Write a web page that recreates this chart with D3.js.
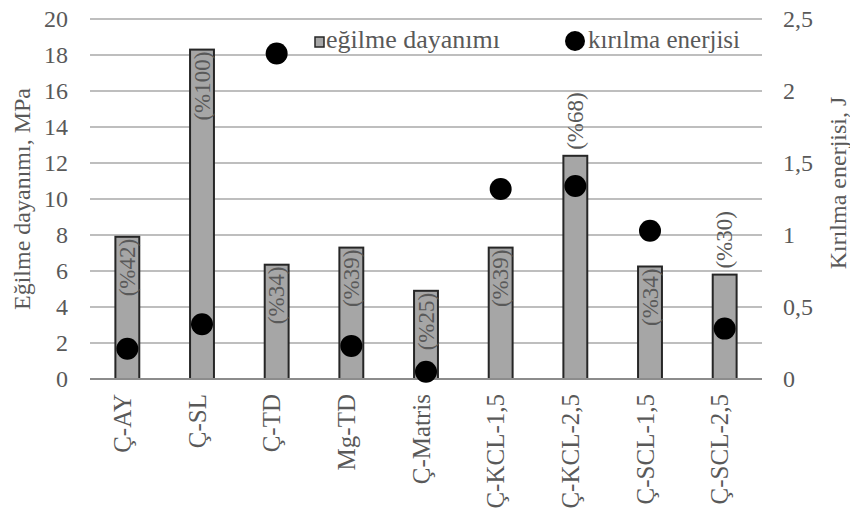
<!DOCTYPE html>
<html>
<head>
<meta charset="utf-8">
<script src="https://cdn.jsdelivr.net/npm/d3@7"></script>
<style>
  html, body { margin: 0; padding: 0; background: #fff; }
  svg { display: block; }
  text { font-family: "Liberation Serif", "Times New Roman", serif; fill: #595959; }
</style>
</head>
<body>
<svg id="chart" width="850" height="511"></svg>
<script>
// Sample codes
const categories = ["Ç-AY", "Ç-SL", "Ç-TD", "Mg-TD", "Ç-Matris", "Ç-KCL-1,5", "Ç-KCL-2,5", "Ç-SCL-1,5", "Ç-SCL-2,5"];
// Flexural strength (MPa) – bars, left axis
const strength = [7.9, 18.3, 6.35, 7.3, 4.9, 7.3, 12.4, 6.25, 5.8];
// Relative strength labels
const strengthLabels = ["(%42)", "(%100)", "(%34)", "(%39)", "(%25)", "(%39)", "(%68)", "(%34)", "(%30)"];
// Whether each label sits inside the bar (true) or above it (false)
const labelInside = [true, true, true, true, true, true, false, true, false];
// Fracture energy (J) – dots, right axis
const energy = [0.21, 0.38, 2.26, 0.23, 0.05, 1.32, 1.34, 1.03, 0.35];
// Axis ticks
const leftTicks = [0, 2, 4, 6, 8, 10, 12, 14, 16, 18, 20];
const rightTicks = [0, 0.5, 1, 1.5, 2, 2.5];

const svg = d3.select("#chart");
const plot = { left: 90, right: 762, top: 19, bottom: 379 };
const serif = '"Liberation Serif", "Times New Roman", serif';

const x = d3.scaleBand()
  .domain(categories)
  .range([plot.left, plot.right])
  .paddingInner(0.68)
  .paddingOuter(0.34);

const yL = d3.scaleLinear().domain([0, 20]).range([plot.bottom, plot.top]);
const yR = d3.scaleLinear().domain([0, 2.5]).range([plot.bottom, plot.top]);

// Horizontal gridlines
svg.append("g")
  .selectAll("line")
  .data(leftTicks)
  .join("line")
  .attr("x1", plot.left).attr("x2", plot.right)
  .attr("y1", d => yL(d)).attr("y2", d => yL(d))
  .attr("stroke", "#a9a9a9")
  .attr("stroke-width", 1.6);

// Left axis labels
const leftAxis = svg.append("g")
  .attr("transform", `translate(${plot.left},0)`)
  .call(d3.axisLeft(yL).tickValues(leftTicks).tickSize(0).tickPadding(22));
leftAxis.attr("font-family", serif);
leftAxis.select(".domain").remove();
leftAxis.selectAll("text")
  .style("font-size", "24px").attr("fill", "#595959");

// Right axis labels
const rightAxis = svg.append("g")
  .attr("transform", `translate(${plot.right},0)`)
  .call(d3.axisRight(yR).tickValues(rightTicks).tickSize(0).tickPadding(21)
    .tickFormat(d => String(d).replace(".", ",")));
rightAxis.attr("font-family", serif);
rightAxis.select(".domain").remove();
rightAxis.selectAll("text")
  .style("font-size", "24px").attr("fill", "#595959");

// Bars
svg.append("g")
  .selectAll("rect")
  .data(strength)
  .join("rect")
  .attr("x", (d, i) => x(categories[i]))
  .attr("width", x.bandwidth())
  .attr("y", d => yL(d))
  .attr("height", d => yL(0) - yL(d))
  .attr("fill", "#a6a6a6")
  .attr("stroke", "#262626")
  .attr("stroke-width", 2);

// Bar labels, rotated to read bottom to top
svg.append("g")
  .selectAll("text")
  .data(strength)
  .join("text")
  .attr("transform", (d, i) => {
    const cx = x(categories[i]) + x.bandwidth() / 2;
    return `translate(${cx},${yL(d) + (labelInside[i] ? 2 : -6)}) rotate(-90)`;
  })
  .attr("text-anchor", (d, i) => labelInside[i] ? "end" : "start")
  .attr("dy", "0.33em")
  .style("font-size", "23px")
  .attr("fill", "#505050")
  .text((d, i) => strengthLabels[i]);

// X axis line
svg.append("line")
  .attr("x1", plot.left).attr("x2", plot.right)
  .attr("y1", plot.bottom).attr("y2", plot.bottom)
  .attr("stroke", "#8c8c8c").attr("stroke-width", 2);

// Energy dots
svg.append("g")
  .selectAll("circle")
  .data(energy)
  .join("circle")
  .attr("cx", (d, i) => x(categories[i]) + x.bandwidth() / 2)
  .attr("cy", d => yR(d))
  .attr("r", 11)
  .attr("fill", "#000");

// Category labels
svg.append("g")
  .selectAll("text")
  .data(categories)
  .join("text")
  .attr("transform", d => `translate(${x(d) + x.bandwidth() / 2 - 5},394) rotate(-90)`)
  .attr("text-anchor", "end")
  .attr("dy", "0.35em")
  .style("font-size", "25px")
  .text(d => d);

// Axis titles
svg.append("text")
  .attr("transform", `translate(22,${(plot.top + plot.bottom) / 2}) rotate(-90)`)
  .attr("text-anchor", "middle")
  .attr("dy", "0.35em")
  .style("font-size", "24px")
  .text("Eğilme dayanımı, MPa");

svg.append("text")
  .attr("transform", `translate(838,${(plot.top + plot.bottom) / 2 - 16}) rotate(-90)`)
  .attr("text-anchor", "middle")
  .attr("dy", "0.35em")
  .style("font-size", "24px")
  .text("Kırılma enerjisi, J");

// Legend
const legend = svg.append("g");
legend.append("rect")
  .attr("x", 312).attr("y", 24).attr("width", 434).attr("height", 28)
  .attr("fill", "#fff");
legend.append("rect")
  .attr("x", 315).attr("y", 37).attr("width", 9).attr("height", 10)
  .attr("fill", "#a6a6a6").attr("stroke", "#262626").attr("stroke-width", 1.5);
legend.append("text")
  .attr("x", 326).attr("y", 48)
  .style("font-size", "26px")
  .text("eğilme dayanımı");
legend.append("circle")
  .attr("cx", 575).attr("cy", 41).attr("r", 10).attr("fill", "#000");
legend.append("text")
  .attr("x", 588).attr("y", 48)
  .style("font-size", "25px")
  .text("kırılma enerjisi");
</script>
</body>
</html>
